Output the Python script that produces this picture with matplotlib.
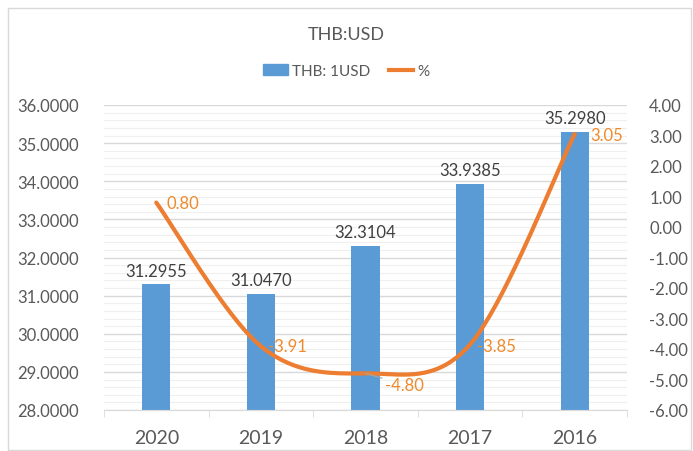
import numpy as np
import matplotlib
matplotlib.use("Agg")
import matplotlib.pyplot as plt
from matplotlib.patches import Rectangle, Patch
from matplotlib.lines import Line2D
from matplotlib.ticker import MultipleLocator, FormatStrFormatter

plt.rcParams['font.family'] = ['Lato', 'DejaVu Sans']

categories = ["2020", "2019", "2018", "2017", "2016"]
rate = [31.2955, 31.0470, 32.3104, 33.9385, 35.2980]
pct = [0.80, -3.91, -4.80, -3.85, 3.05]
bar_label = "THB: 1USD"
line_label = "%"
title = "THB:USD"

BLUE = "#5B9BD5"
ORANGE = "#ED7D31"
LBL_OR = "#EE8A2C"
TXT = "#595959"

fig = plt.figure(figsize=(6.93, 4.52), dpi=100)
fig.patches.append(Rectangle((8/693, 1-451/452), 683/693, 442/452, transform=fig.transFigure,
                             fill=False, edgecolor="#D9D9D9", linewidth=1.0))

ax = fig.add_axes([104/693, 1-411/452, 523/693, 305/452])
x = np.arange(len(categories))
bars = ax.bar(x, rate, width=0.27, bottom=0, color=BLUE, zorder=2)
ax.set_ylim(28, 36)
ax.set_xlim(-0.5, len(categories)-0.5)
ax.yaxis.set_major_locator(MultipleLocator(1))
ax.yaxis.set_minor_locator(MultipleLocator(0.2))
ax.yaxis.set_major_formatter(FormatStrFormatter("%.4f"))
ax.grid(axis='y', which='major', color="#D9D9D9", linewidth=1.0, zorder=0)
ax.grid(axis='y', which='minor', color="#EFEFEF", linewidth=0.8, zorder=0)
ax.set_axisbelow(True)
for s in ["top", "right", "left"]:
    ax.spines[s].set_visible(False)
ax.spines["bottom"].set_color("#D9D9D9")
ax.tick_params(axis='y', which='both', length=0, labelsize=12, labelcolor=TXT, pad=18)
ax.set_xticks(x)
ax.set_xticklabels(categories)
ax.tick_params(axis='x', which='major', length=0, labelsize=14, labelcolor=TXT, pad=14)
ax.set_xticks(np.arange(-0.5, len(categories)), minor=True)
ax.tick_params(axis='x', which='minor', length=5, color="#D9D9D9")

# bars start at axis floor
for b in bars:
    b.set_y(28)
    b.set_height(b.get_height() - 28)
for xi, v in zip(x, rate):
    ax.text(xi, v + 0.15, f"{v:.4f}", ha='center', va='bottom', fontsize=12, color="#404040")

ax2 = ax.twinx()
ax2.set_ylim(-6, 4)
ax2.yaxis.set_major_locator(MultipleLocator(1))
ax2.yaxis.set_major_formatter(FormatStrFormatter("%.2f"))
for s in ax2.spines.values():
    s.set_visible(False)
ax2.tick_params(axis='y', length=0, labelsize=12, labelcolor=TXT, pad=16)

# Excel-style smooth curve (Bezier through data points)
px = x.astype(float)
py = np.array(pct, dtype=float)
n = len(px)
cx, cy = [], []
t = np.linspace(0, 1, 40)
for i in range(n-1):
    p0 = np.array([px[max(i-1, 0)], py[max(i-1, 0)]])
    p1 = np.array([px[i], py[i]])
    p2 = np.array([px[i+1], py[i+1]])
    p3 = np.array([px[min(i+2, n-1)], py[min(i+2, n-1)]])
    c1 = p1 + (p2 - p0) / 6
    c2 = p2 - (p3 - p1) / 6
    b = ((1-t)**3)[:, None]*p1 + (3*(1-t)**2*t)[:, None]*c1 + (3*(1-t)*t**2)[:, None]*c2 + (t**3)[:, None]*p2
    cx.extend(b[:, 0]); cy.extend(b[:, 1])
ax2.plot(cx, cy, color=ORANGE, linewidth=3, solid_capstyle='round', zorder=3)

offsets = [(7, 0), (5, 0), (14, -8), (5, -1), (11, -1)]
for i, (xi, v) in enumerate(zip(px, py)):
    dx, dy = offsets[i]
    if i == 2:
        ax2.annotate(f"{v:.2f}", (xi, v), xytext=(dx, dy), textcoords='offset points',
                     ha='left', va='center', fontsize=12, color=LBL_OR,
                     arrowprops=dict(arrowstyle='-', color="#A6A6A6", lw=0.8, shrinkA=0, shrinkB=0))
    else:
        ax2.annotate(f"{v:.2f}", (xi, v), xytext=(dx, dy), textcoords='offset points',
                     ha='left', va='center', fontsize=12, color=LBL_OR)

fig.text(0.5, 1-35/452, title, ha='center', va='center', fontsize=13, color=TXT)
handles = [Patch(facecolor=BLUE, edgecolor=BLUE), Line2D([0], [0], color=ORANGE, lw=3)]
fig.legend(handles, [bar_label, line_label], loc='center', bbox_to_anchor=(0.5, 1-72/452),
           ncol=2, frameon=False, fontsize=11, labelcolor=TXT, handlelength=1.6,
           handletextpad=0.3, columnspacing=1.2)

fig.savefig("out.png", dpi=100)
